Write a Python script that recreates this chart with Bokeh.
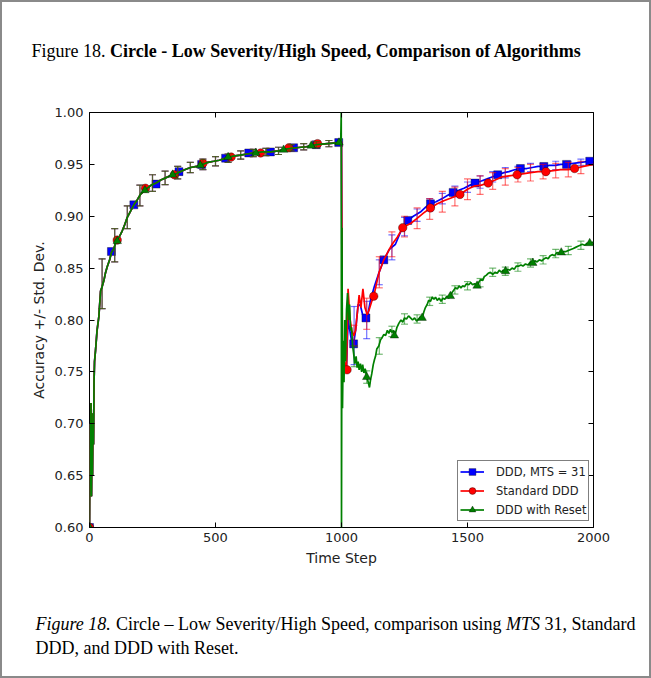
from bokeh.plotting import figure
from bokeh.layouts import column
from bokeh.models import (Range1d, LinearAxis, FixedTicker, NumeralTickFormatter,
                          Legend, LegendItem)
from bokeh.core.properties import value
from bokeh.embed import file_html
from bokeh.resources import INLINE

# ---------------- data ----------------
# shared segment before the drift at t=1000 (all three algorithms coincide)
pre_x = [0, 2, 4, 6, 8, 10, 12, 14, 16, 18, 20, 24, 30, 37, 44, 50, 57, 63, 70, 80, 87, 97,
         107, 118, 130, 140, 150, 163, 176, 190, 202, 215, 229, 245, 264, 283, 302, 320, 335,
         361, 380, 401, 425, 450, 470, 493, 515, 540, 570, 599, 625, 652, 685, 718, 750, 784,
         820, 860, 900, 945, 990]
pre_y = [0.600, 0.700, 0.640, 0.720, 0.630, 0.690, 0.650, 0.710, 0.680, 0.740, 0.760, 0.771,
         0.790, 0.803, 0.828, 0.832, 0.838, 0.845, 0.851, 0.858, 0.865, 0.869, 0.877, 0.880,
         0.886, 0.892, 0.899, 0.905, 0.911, 0.916, 0.921, 0.924, 0.927, 0.930, 0.932, 0.935,
         0.937, 0.939, 0.940, 0.943, 0.945, 0.947, 0.948, 0.950, 0.952, 0.953, 0.954, 0.956,
         0.958, 0.959, 0.960, 0.961, 0.962, 0.962, 0.963, 0.965, 0.966, 0.967, 0.969, 0.970,
         0.971]
pre_eb_x = [50, 100, 150, 200, 250, 300, 350, 400, 450, 500, 550, 600, 650, 700, 750, 800,
            850, 900, 950]
pre_eb_mean = [0.835, 0.872, 0.899, 0.920, 0.932, 0.937, 0.942, 0.947, 0.950, 0.953, 0.956,
               0.959, 0.961, 0.962, 0.963, 0.966, 0.967, 0.969, 0.970]
pre_eb_std = [0.024, 0.016, 0.011, 0.010, 0.008, 0.0065, 0.006, 0.005, 0.005, 0.0045, 0.004,
              0.004, 0.0035, 0.0035, 0.0035, 0.003, 0.003, 0.003, 0.003]

# after the drift
mts_x = [1000, 1003, 1010, 1020, 1026, 1033, 1040, 1048, 1056, 1066, 1075, 1083, 1090, 1097,
         1102, 1108, 1115, 1130, 1148, 1168, 1190, 1214, 1240, 1263, 1285, 1313, 1335, 1353,
         1375, 1400, 1420, 1443, 1465, 1486, 1510, 1530, 1555, 1578, 1600, 1620, 1645, 1664,
         1690, 1710, 1735, 1757, 1780, 1803, 1825, 1849, 1870, 1893, 1920, 1950, 1985, 2000]
mts_y = [0.972, 0.745, 0.760, 0.755, 0.800, 0.790, 0.780, 0.777, 0.790, 0.815, 0.814, 0.806,
         0.800, 0.802, 0.801, 0.810, 0.819, 0.832, 0.845, 0.858, 0.868, 0.873, 0.888, 0.896,
         0.900, 0.904, 0.909, 0.912, 0.914, 0.917, 0.920, 0.923, 0.925, 0.927, 0.930, 0.932,
         0.934, 0.936, 0.938, 0.940, 0.942, 0.943, 0.945, 0.946, 0.946, 0.947, 0.948, 0.948,
         0.949, 0.949, 0.950, 0.950, 0.951, 0.952, 0.953, 0.954]
mts_mk_x = [0, 87, 176, 264, 355, 445, 540, 632, 718, 810, 900, 989, 1048, 1097, 1168, 1263,
            1353, 1443, 1530, 1620, 1710, 1803, 1893, 1985]
mts_mk_y = [0.600, 0.866, 0.911, 0.931, 0.943, 0.950, 0.956, 0.961, 0.962, 0.966, 0.969, 0.971,
            0.777, 0.802, 0.858, 0.896, 0.912, 0.923, 0.932, 0.940, 0.946, 0.948, 0.950, 0.953]
post_eb_x = [1050, 1100, 1150, 1200, 1250, 1300, 1350, 1400, 1450, 1500, 1550, 1600, 1650,
             1700, 1750, 1800, 1850, 1900, 1950]
mts_eb_mean = [0.785, 0.800, 0.846, 0.870, 0.890, 0.901, 0.911, 0.917, 0.924, 0.928, 0.933,
               0.938, 0.942, 0.945, 0.947, 0.948, 0.949, 0.950, 0.952]
mts_eb_std = [0.028, 0.018, 0.012, 0.012, 0.009, 0.006, 0.006, 0.005, 0.005, 0.005, 0.006,
              0.005, 0.005, 0.003, 0.004, 0.003, 0.004, 0.003, 0.003]

std_x = [1000, 1004, 1012, 1020, 1026, 1033, 1040, 1049, 1056, 1062, 1070, 1077, 1085, 1093,
         1102, 1110, 1120, 1128, 1138, 1148, 1168, 1185, 1201, 1222, 1243, 1258, 1274, 1300,
         1325, 1353, 1380, 1406, 1440, 1470, 1500, 1525, 1555, 1582, 1610, 1637, 1665, 1697,
         1725, 1750, 1780, 1811, 1840, 1869, 1900, 1925, 1960, 2000]
std_y = [0.972, 0.740, 0.760, 0.752, 0.830, 0.803, 0.790, 0.785, 0.790, 0.805, 0.824, 0.812,
         0.830, 0.812, 0.805, 0.810, 0.818, 0.823, 0.834, 0.845, 0.858, 0.866, 0.873, 0.880,
         0.889, 0.891, 0.893, 0.898, 0.903, 0.908, 0.912, 0.915, 0.918, 0.921, 0.926, 0.929,
         0.930, 0.932, 0.935, 0.938, 0.939, 0.940, 0.941, 0.942, 0.943, 0.943, 0.944, 0.945,
         0.945, 0.946, 0.948, 0.950]
std_mk_x = [0, 110, 222, 337, 450, 562, 679, 791, 905, 1022, 1128, 1243, 1353, 1470, 1582,
            1697, 1811, 1925]
std_mk_y = [0.600, 0.877, 0.927, 0.940, 0.951, 0.957, 0.961, 0.966, 0.970, 0.752, 0.823, 0.889,
            0.908, 0.921, 0.932, 0.940, 0.943, 0.946]
std_eb_mean = [0.785, 0.806, 0.846, 0.873, 0.890, 0.898, 0.907, 0.914, 0.919, 0.926, 0.930,
               0.934, 0.938, 0.940, 0.942, 0.943, 0.944, 0.945, 0.947]
std_eb_std = [0.010, 0.015, 0.015, 0.012, 0.010, 0.010, 0.010, 0.010, 0.009, 0.010, 0.009,
              0.008, 0.008, 0.007, 0.008, 0.007, 0.007, 0.007, 0.006]

rst_x = [997, 999, 1000, 1002, 1004, 1007, 1010, 1013, 1016, 1020, 1024, 1028, 1032, 1036,
         1040, 1044, 1048, 1053, 1058, 1062, 1066, 1070, 1075, 1080, 1084, 1089, 1094, 1100,
         1104, 1108, 1111, 1115, 1120, 1126, 1131, 1135, 1140, 1148, 1155, 1161, 1168, 1175,
         1182, 1188, 1194, 1200, 1206, 1212, 1220, 1228, 1236, 1243, 1250, 1258, 1266, 1274,
         1282, 1290, 1298, 1306, 1313, 1320, 1327, 1333, 1340, 1346, 1353, 1360, 1367, 1373,
         1380, 1388, 1395, 1402, 1410, 1418, 1425, 1432, 1440, 1446, 1452, 1460, 1467, 1474,
         1481, 1488, 1496, 1505, 1513, 1520, 1528, 1538, 1546, 1553, 1560, 1567, 1574, 1582,
         1591, 1600, 1610, 1618, 1626, 1634, 1642, 1651, 1660, 1668, 1677, 1686, 1694, 1704,
         1712, 1720, 1730, 1740, 1750, 1759, 1768, 1776, 1785, 1795, 1804, 1812, 1820, 1828,
         1836, 1845, 1855, 1864, 1873, 1882, 1891, 1900, 1910, 1920, 1929, 1938, 1947, 1955,
         1965, 1975, 1985, 2000]
rst_y = [0.972, 1.000, 0.600, 0.889, 0.715, 0.780, 0.740, 0.800, 0.760, 0.810, 0.826, 0.800,
         0.815, 0.790, 0.793, 0.775, 0.768, 0.758, 0.765, 0.754, 0.760, 0.752, 0.758, 0.750,
         0.757, 0.749, 0.753, 0.745, 0.742, 0.738, 0.735, 0.742, 0.748, 0.757, 0.762, 0.765,
         0.772, 0.775, 0.781, 0.783, 0.786, 0.785, 0.790, 0.787, 0.791, 0.788, 0.790, 0.785,
         0.793, 0.797, 0.800, 0.798, 0.802, 0.801, 0.804, 0.802, 0.800, 0.802, 0.799, 0.801,
         0.803, 0.802, 0.808, 0.812, 0.815, 0.819, 0.818, 0.822, 0.820, 0.822, 0.819, 0.821,
         0.818, 0.821, 0.820, 0.823, 0.821, 0.823, 0.827, 0.829, 0.831, 0.830, 0.833, 0.831,
         0.833, 0.832, 0.835, 0.834, 0.836, 0.834, 0.835, 0.833, 0.837, 0.839, 0.838, 0.842,
         0.843, 0.845, 0.846, 0.844, 0.846, 0.845, 0.848, 0.846, 0.848, 0.847, 0.849, 0.848,
         0.850, 0.849, 0.852, 0.852, 0.853, 0.852, 0.854, 0.853, 0.856, 0.855, 0.857, 0.856,
         0.858, 0.857, 0.859, 0.860, 0.859, 0.862, 0.863, 0.862, 0.865, 0.864, 0.865, 0.866,
         0.866, 0.867, 0.868, 0.869, 0.870, 0.871, 0.872, 0.873, 0.872, 0.874, 0.874, 0.875]
rst_mk_x = [0, 110, 220, 330, 440, 550, 660, 770, 880, 990, 1100, 1210, 1320, 1432, 1538,
            1651, 1759, 1872, 1985]
rst_mk_y = [0.600, 0.876, 0.925, 0.940, 0.949, 0.957, 0.961, 0.964, 0.968, 0.971, 0.745, 0.785,
            0.802, 0.823, 0.833, 0.847, 0.855, 0.865, 0.874]
rst_eb_mean = [0.765, 0.745, 0.775, 0.789, 0.801, 0.801, 0.818, 0.820, 0.829, 0.833, 0.836,
               0.846, 0.847, 0.851, 0.855, 0.858, 0.864, 0.867, 0.872]
rst_eb_std = [0.010, 0.006, 0.008, 0.005, 0.005, 0.004, 0.004, 0.004, 0.004, 0.004, 0.004,
              0.004, 0.004, 0.004, 0.004, 0.004, 0.004, 0.004, 0.004]

x_ticks = [0, 500, 1000, 1500, 2000]
y_ticks = [0.60, 0.65, 0.70, 0.75, 0.80, 0.85, 0.90, 0.95, 1.00]
labels = ["DDD, MTS = 31", "Standard DDD", "DDD with Reset"]
colors = ["#0000ff", "#ff0000", "#008000"]

title_parts = ["Figure 18.", "Circle - Low Severity/High Speed, Comparison of Algorithms"]
caption_parts = ["Figure 18.", "Circle \u2013 Low Severity/High Speed, comparison using",
                 "MTS", "31, Standard", "DDD, and DDD with Reset."]

# ---------------- layout geometry ----------------
BW = 2                      # page border width
IW = 651 - 2 * BW           # inner width
TOP_H, MAIN_H = 80, 500
BOT_H = 678 - 2 * BW - TOP_H - MAIN_H
SERIF = "Liberation Serif"
AX_FONT = "DejaVu Sans"


def text_fig(h):
    f = figure(width=IW, height=h, output_backend="svg", toolbar_location=None,
               x_range=Range1d(0, IW), y_range=Range1d(h, 0),
               x_axis_type=None, y_axis_type=None, min_border=0, frame_align=False)
    f.grid.visible = False
    f.outline_line_color = None
    f.background_fill_color = "white"
    f.border_fill_color = "white"
    return f


def put(f, x, y, t, style="normal"):
    f.text(x=[x], y=[y], text=[t], text_font=value(SERIF), text_font_size=value("18px"),
           text_font_style=value(style), text_color="black", text_align="left",
           text_baseline="alphabetic")


top = text_fig(TOP_H)
put(top, 31 - BW, 48, title_parts[0])
put(top, 109.5 - BW, 48, title_parts[1], "bold")

bot = text_fig(BOT_H)
put(bot, 35 - BW, 41, caption_parts[0], "italic")
put(bot, 115.5 - BW, 41, caption_parts[1])
put(bot, 505.5 - BW, 41, caption_parts[2], "italic")
put(bot, 544 - BW, 41, caption_parts[3])
put(bot, 35 - BW, 65, caption_parts[4])

# ---------------- main chart ----------------
p = figure(width=IW, height=MAIN_H, output_backend="svg", toolbar_location=None,
           x_range=Range1d(0, 2000), y_range=Range1d(0.6, 1.0), frame_align=False,
           min_border_left=89 - BW, min_border_right=651 - BW - 593,
           min_border_top=112 - BW - TOP_H, min_border_bottom=BW + TOP_H + MAIN_H - 527)
p.background_fill_color = "white"
p.border_fill_color = "white"
p.grid.visible = False
p.outline_line_color = "black"
p.outline_line_width = 1

for ax in (p.xaxis[0], p.yaxis[0]):
    ax.axis_line_color = None
    ax.major_tick_in = 5
    ax.major_tick_out = 0
    ax.minor_tick_line_color = None
    ax.major_tick_line_color = "black"
    ax.major_label_text_font = AX_FONT
    ax.major_label_text_font_size = "13px"
    ax.major_label_text_color = "#222222"
    ax.axis_label_text_font = AX_FONT
    ax.axis_label_text_font_size = "14px"
    ax.axis_label_text_font_style = "normal"
    ax.axis_label_text_color = "#222222"
p.xaxis.ticker = FixedTicker(ticks=x_ticks)
p.yaxis.ticker = FixedTicker(ticks=y_ticks)
p.yaxis.formatter = NumeralTickFormatter(format="0.00")
p.xaxis.axis_label = "Time Step"
p.yaxis.axis_label = "Accuracy +/- Std. Dev."
p.xaxis.major_label_standoff = 5
p.yaxis.major_label_standoff = 6
p.xaxis.axis_label_standoff = 5
p.yaxis.axis_label_standoff = 5

top_ax = LinearAxis(ticker=FixedTicker(ticks=x_ticks), axis_line_color=None,
                    major_tick_in=5, major_tick_out=0, minor_tick_line_color=None,
                    major_label_text_alpha=0, major_label_text_font_size="1px")
right_ax = LinearAxis(ticker=FixedTicker(ticks=y_ticks), axis_line_color=None,
                      major_tick_in=5, major_tick_out=0, minor_tick_line_color=None,
                      major_label_text_alpha=0, major_label_text_font_size="1px")
p.add_layout(top_ax, "above")
p.add_layout(right_ax, "right")

series = [
    (mts_x, mts_y, mts_mk_x, mts_mk_y, mts_eb_mean, mts_eb_std, "square", 8),
    (std_x, std_y, std_mk_x, std_mk_y, std_eb_mean, std_eb_std, "circle", 8.5),
    (rst_x, rst_y, rst_mk_x, rst_mk_y, rst_eb_mean, rst_eb_std, "triangle", 8.5),
]
items = []
for (sx, sy, mx, my, em, es, mk, ms), lab, col in zip(series, labels, colors):
    lx = pre_x + sx
    ly = pre_y + sy
    ebx = pre_eb_x + post_eb_x
    ebm = pre_eb_mean + em
    ebs = pre_eb_std + es
    lo = [m - s for m, s in zip(ebm, ebs)]
    hi = [m + s for m, s in zip(ebm, ebs)]
    line_r = p.line(lx, ly, line_color=col, line_width=1.7)
    p.segment(ebx, lo, ebx, hi, line_color=col, line_alpha=0.55, line_width=1.2)
    p.scatter(ebx + ebx, lo + hi, marker="dash", size=7, line_color=col, line_alpha=0.55,
              line_width=1.2)
    mk_r = p.scatter(mx, my, marker=mk, size=ms, fill_color=col, line_color="black",
                     line_width=0.5, line_alpha=0.7)
    items.append(LegendItem(label=lab, renderers=[line_r, mk_r]))

legend = Legend(items=items, location=(457 - 89, 527 - 521), margin=0, padding=2, spacing=2,
                label_text_font=AX_FONT, label_text_font_size="11.5px",
                label_text_color="#222222", glyph_width=24, glyph_height=17,
                label_standoff=12, label_height=17,
                border_line_color="black", border_line_width=1,
                background_fill_color="white", background_fill_alpha=1)
p.add_layout(legend)

page = column(top, p, bot, spacing=0,
              styles={"border": "%dpx solid #8a8a8a" % BW, "background-color": "white"})

open("out.html", "w").write(file_html(page, INLINE))
